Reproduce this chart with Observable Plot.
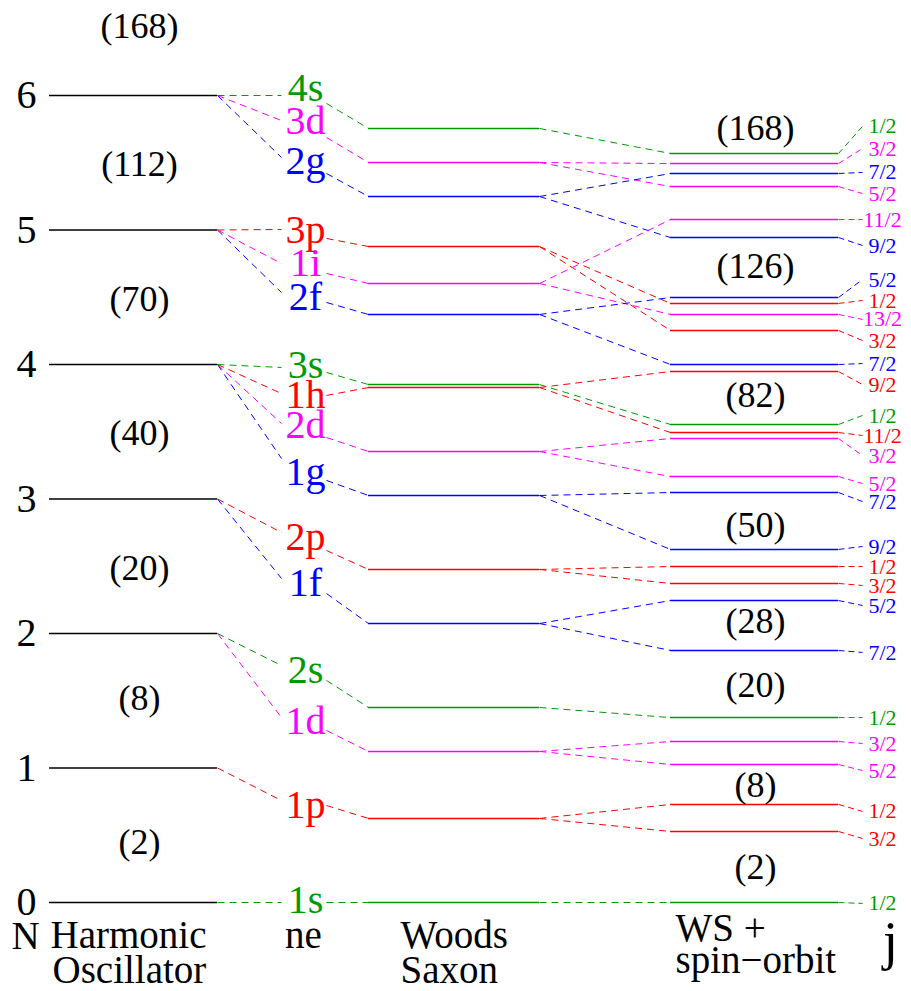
<!DOCTYPE html>
<html>
<head>
<meta charset="utf-8">
<script src="https://cdn.jsdelivr.net/npm/d3@7"></script>
<script src="https://cdn.jsdelivr.net/npm/@observablehq/plot@0.6"></script>
<style>
  html, body { margin: 0; padding: 0; background: #fff; }
  #chart svg { display: block; }
  #chart svg, #chart svg text { font-family: "Liberation Serif", "Times New Roman", Times, serif !important; }
</style>
</head>
<body>
<div id="chart"></div>
<script>
// ---- Data (energies in units of hbar*omega) ----
const hoN = [0, 1, 2, 3, 4, 5, 6];
const hoMagic = ["(2)", "(8)", "(20)", "(40)", "(70)", "(112)", "(168)"];
const hoMagicE = [0.45, 1.52, 2.48, 3.49, 4.48, 5.49, 6.51];

const nlNames  = ["1s", "1p", "1d", "2s", "1f", "2p", "1g", "2d", "1h", "3s", "2f", "1i", "3p", "2g", "3d", "4s"];
const nlShell  = [0, 1, 2, 2, 3, 3, 4, 4, 4, 4, 5, 5, 5, 6, 6, 6];
const nlLabelE = [0.015, 0.721, 1.346, 1.725, 2.372, 2.714, 3.197, 3.546, 3.770, 3.993, 4.498, 4.751, 4.996, 5.509, 5.807, 6.052];
const nlInE    = [0, 0.758, 1.375, 1.762, 2.409, 2.751, 3.301, 3.561, 3.784, 3.978, 4.535, 4.751, 5.004, 5.539, 5.814, 6.000];
const nlOutE   = [0, 0.721, 1.279, 1.651, 2.297, 2.617, 3.138, 3.457, 3.770, 3.941, 4.461, 4.677, 4.937, 5.420, 5.688, 5.941];
const wsE      = [0, 0.625, 1.123, 1.450, 2.074, 2.476, 3.026, 3.353, 3.829, 3.851, 4.372, 4.602, 4.877, 5.249, 5.502, 5.755];

const soParent = ["1s", "1p", "1p", "1d", "1d", "2s", "1f", "1f", "2p", "2p", "1g", "1g", "2d", "2d", "1h", "3s", "1h", "2f", "3p", "1i", "3p", "2f", "2g", "1i", "3d", "2g", "3d", "4s"];
const soJ      = ["1/2", "3/2", "1/2", "5/2", "3/2", "1/2", "7/2", "5/2", "3/2", "1/2", "9/2", "7/2", "5/2", "3/2", "11/2", "1/2", "9/2", "7/2", "3/2", "13/2", "1/2", "5/2", "9/2", "11/2", "5/2", "7/2", "3/2", "1/2"];
const soE      = [0, 0.528, 0.729, 1.026, 1.197, 1.375, 1.874, 2.245, 2.372, 2.498, 2.625, 3.048, 3.167, 3.450, 3.494, 3.554, 3.948, 4.000, 4.253, 4.372, 4.454, 4.498, 4.944, 5.078, 5.323, 5.420, 5.494, 5.569];
const soLabelE = [-0.007, 0.476, 0.677, 0.981, 1.182, 1.375, 1.859, 2.208, 2.357, 2.498, 2.647, 2.981, 3.115, 3.323, 3.472, 3.621, 3.851, 4.007, 4.178, 4.335, 4.476, 4.632, 4.885, 5.078, 5.271, 5.428, 5.606, 5.770];

const soMagic  = ["(2)", "(8)", "(20)", "(28)", "(50)", "(82)", "(126)", "(168)"];
const soMagicE = [0.260, 0.870, 1.613, 2.089, 2.803, 3.770, 4.729, 5.755];

const columnTitles = ["N", "Harmonic", "Oscillator", "ne", "Woods", "Saxon", "WS +", "spin\u2212orbit", "j"];

// ---- Styling / layout ----
const lColor = { s: "#009a00", p: "#ff0000", d: "#ff00ff", f: "#0000ff", g: "#0000ff", h: "#ff0000", i: "#ff00ff" };
const col = { N: 26, hoL: 49, hoR: 217, magicHO: 139, nlIn: 281, nl: 305, nlOut: 326,
              wsL: 368, wsR: 539, soL: 670, soR: 838, magicSO: 755, jIn: 862, j: 882 };
const dash = "7,5";
const font = "'Liberation Serif', 'Times New Roman', Times, serif";

const nl = nlNames.map((name, i) => ({
  name, N: nlShell[i], labelE: nlLabelE[i], inE: nlInE[i], outE: nlOutE[i], ws: wsE[i], color: lColor[name[1]]
}));
const so = soParent.map((p, i) => ({
  parent: p, j: soJ[i], e: soE[i], labelE: soLabelE[i], ws: wsE[nlNames.indexOf(p)], color: lColor[p[1]]
}));

const bottomRow = (text, x, anchor, dy, size = 39) =>
  Plot.text([text], { x, frameAnchor: "bottom", lineAnchor: "bottom", dy, textAnchor: anchor,
                      fontSize: size, fontFamily: font, fill: "black", text: d => d });

const chart = Plot.plot({
  width: 911,
  height: 991,
  marginTop: 95,
  marginBottom: 89,
  marginLeft: 0,
  marginRight: 0,
  style: { fontFamily: font, background: "white", overflow: "visible" },
  x: { type: "identity", axis: null },
  y: { domain: [0, 6], axis: null },
  marks: [
    // Harmonic oscillator levels
    Plot.ruleY(hoN, { y: d => d, x1: col.hoL, x2: col.hoR, stroke: "black", strokeWidth: 1.5 }),
    Plot.text(hoN, { x: col.N, y: d => d, text: d => String(d), fontSize: 40, fontFamily: font, fill: "black" }),
    Plot.text(hoMagic, { x: col.magicHO, y: (d, i) => hoMagicE[i], text: d => d, fontSize: 36, fontFamily: font, fill: "black" }),

    // HO -> nl labels
    Plot.link(nl, { x1: col.hoR, y1: "N", x2: col.nlIn, y2: "inE", stroke: "color", strokeWidth: 1, strokeDasharray: dash }),
    // nl labels -> Woods-Saxon levels
    Plot.link(nl, { x1: col.nlOut, y1: "outE", x2: col.wsL, y2: "ws", stroke: "color", strokeWidth: 1, strokeDasharray: dash }),
    Plot.text(nl, { x: col.nl, y: "labelE", text: "name", fill: "color", fontSize: 40, fontFamily: font }),

    // Woods-Saxon levels
    Plot.ruleY(nl, { y: "ws", x1: col.wsL, x2: col.wsR, stroke: "color", strokeWidth: 1.5 }),

    // WS -> spin-orbit levels
    Plot.link(so, { x1: col.wsR, y1: "ws", x2: col.soL, y2: "e", stroke: "color", strokeWidth: 1, strokeDasharray: dash }),
    Plot.ruleY(so, { y: "e", x1: col.soL, x2: col.soR, stroke: "color", strokeWidth: 1.5 }),

    // spin-orbit levels -> j labels
    Plot.link(so, { x1: col.soR, y1: "e", x2: col.jIn, y2: "labelE", stroke: "color", strokeWidth: 1, strokeDasharray: "6,4" }),
    Plot.text(so, { x: col.j, y: "labelE", text: "j", fill: "color", fontSize: 22, fontFamily: font }),

    Plot.text(soMagic, { x: col.magicSO, y: (d, i) => soMagicE[i], text: d => d, fontSize: 36, fontFamily: font, fill: "black" }),

    // column titles (below the frame)
    bottomRow(columnTitles[0], 25, "middle", 46),
    bottomRow(columnTitles[1], 50, "start", 45),
    bottomRow(columnTitles[2], 52, "start", 80),
    bottomRow(columnTitles[3], 303, "middle", 45),
    bottomRow(columnTitles[4], 400, "start", 45),
    bottomRow(columnTitles[5], 400, "start", 80),
    bottomRow(columnTitles[6], 675, "start", 38),
    bottomRow(columnTitles[7], 675, "start", 70),
    bottomRow(columnTitles[8], 890, "middle", 56, 54)
  ]
});

document.getElementById("chart").appendChild(chart);
</script>
</body>
</html>
